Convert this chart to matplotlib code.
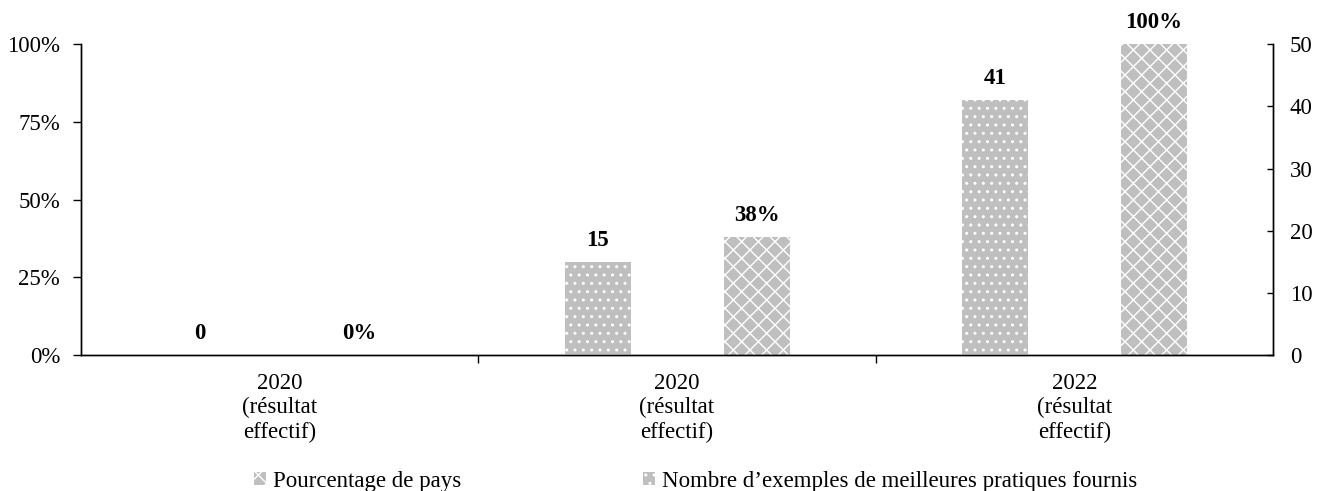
import numpy as np
import matplotlib
matplotlib.use("Agg")
import matplotlib.pyplot as plt

plt.rcParams['font.family'] = ['Liberation Serif', 'DejaVu Serif']
plt.rcParams['hatch.color'] = 'white'
plt.rcParams['hatch.linewidth'] = 1.0

categories = ["2020\n(résultat\neffectif)", "2020\n(résultat\neffectif)", "2022\n(résultat\neffectif)"]
exemples = [0, 15, 41]          # right axis
pourcentage = [0, 38, 100]      # left axis, percent

label_pct = "Pourcentage de pays"
label_nb = "Nombre d\u2019exemples de meilleures pratiques fournis"

GREY = '#bfbfbf'
FS = 16.5

fig = plt.figure(figsize=(13.18, 4.91), dpi=100)
ax = fig.add_axes([0.0615, 0.277, 0.9044, 0.633])
ax2 = ax.twinx()

x = np.arange(len(categories))
w = 0.166
off = 0.2

b_nb = ax2.bar(x - off, exemples, w, color=GREY, edgecolor='white', hatch='..', linewidth=0)
b_pct = ax.bar(x + off, pourcentage, w, color=GREY, edgecolor='white', hatch='xx', linewidth=0)

ax.set_xlim(-0.5, 2.5)
ax.set_ylim(0, 100)
ax2.set_ylim(0, 50)

ax.set_yticks([0, 25, 50, 75, 100])
ax.set_yticklabels([f"{v}%" for v in [0, 25, 50, 75, 100]], fontsize=FS)
ax2.set_yticks(range(0, 51, 10))
ax2.set_yticklabels([str(v) for v in range(0, 51, 10)], fontsize=FS)

# category labels on minor ticks, separators on major ticks
ax.set_xticks([0.5, 1.5])
ax.set_xticklabels([])
ax.set_xticks(x, minor=True)
ax.set_xticklabels(categories, minor=True, fontsize=FS, linespacing=1.2)
ax.tick_params(axis='x', which='major', direction='out', length=6, width=1)
ax.tick_params(axis='x', which='minor', length=0, pad=13)
ax.tick_params(axis='y', direction='out', length=6, width=1, pad=9)
ax2.tick_params(axis='y', direction='in', length=4, width=1, pad=12)

for a in (ax, ax2):
    a.spines['top'].set_visible(False)
    for s in a.spines.values():
        s.set_linewidth(1)

for xi, v in zip(x, exemples):
    ax2.annotate(f"{v}", (xi - off, v), xytext=(0, 8), textcoords='offset points',
                 ha='center', va='bottom', fontsize=FS, fontweight='bold')
for xi, v in zip(x, pourcentage):
    ax.annotate(f"{v}%", (xi + off, v), xytext=(0, 8), textcoords='offset points',
                ha='center', va='bottom', fontsize=FS, fontweight='bold')

fig.legend([b_pct, b_nb], [label_pct, label_nb], loc='center', bbox_to_anchor=(0.528, 0.02),
           ncol=2, frameon=False, fontsize=FS, handlelength=0.52, handleheight=0.52,
           handletextpad=0.3, columnspacing=7.94)

fig.savefig("out.png", dpi=100)
